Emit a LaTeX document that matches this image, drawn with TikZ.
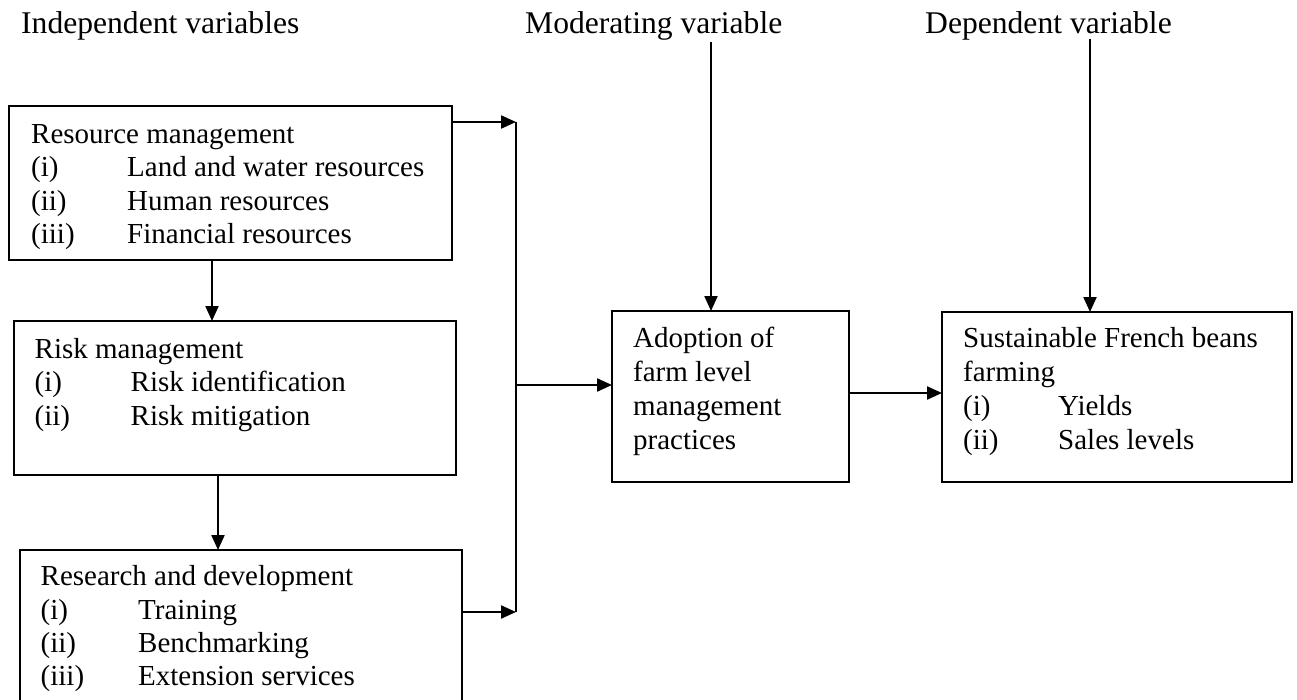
\documentclass[tikz,border=0pt]{standalone}
\usepackage{fontspec}
\setmainfont{Liberation Serif}
\usetikzlibrary{arrows.meta}
\begin{document}
\begin{tikzpicture}[x=1pt,y=-1pt,
  box/.style={draw,line width=2.2pt,anchor=north west,inner sep=0pt,outer sep=0pt},
  txt/.style={anchor=base west,inner sep=0pt,font=\fontsize{29}{33.5}\selectfont},
  hdr/.style={anchor=base west,inner sep=0pt,font=\fontsize{31.6}{36}\selectfont},
  arr/.style={line width=2.2pt,-{Triangle[length=15pt,width=13pt]}},
  ln/.style={line width=2.2pt}]
\useasboundingbox (0,0) rectangle (1297,699);

% headers
\node[hdr] (hind) at (21,33) {Independent variables};
\node[hdr] (hmod) at (525,33) {Moderating variable};
\node[hdr] (hdep) at (925,33) {Dependent variable};

% boxes
\node[box,minimum width=443pt,minimum height=154pt] (rm) at (9,106) {};
\node[box,minimum width=442pt,minimum height=154pt] (risk) at (14,321) {};
\node[box,minimum width=442pt,minimum height=151pt] (rd) at (20,550) {};
\node[box,minimum width=237pt,minimum height=171pt] (ad) at (612,311) {};
\node[box,minimum width=350pt,minimum height=170pt] (sf) at (942,312) {};

% box 1 text
\node[txt] (rm0) at (31,143.3) {Resource management};
\node[txt] (rm1a) at (31,176.7) {(i)};
\node[txt] (rm1b) at (127,176.7) {Land and water resources};
\node[txt] (rm2a) at (31,210) {(ii)};
\node[txt] (rm2b) at (127,210) {Human resources};
\node[txt] (rm3a) at (31,243.3) {(iii)};
\node[txt] (rm3b) at (127,243.3) {Financial resources};

% box 2 text
\node[txt] (rk0) at (34.5,358.3) {Risk management};
\node[txt] (rk1a) at (34.5,391.7) {(i)};
\node[txt] (rk1b) at (130.5,391.7) {Risk identification};
\node[txt] (rk2a) at (34.5,425) {(ii)};
\node[txt] (rk2b) at (130.5,425) {Risk mitigation};

% box 3 text
\node[txt] (rd0) at (40.5,585) {Research and development};
\node[txt] (rd1a) at (40.5,619) {(i)};
\node[txt] (rd1b) at (138,619) {Training};
\node[txt] (rd2a) at (40.5,652) {(ii)};
\node[txt] (rd2b) at (138,652) {Benchmarking};
\node[txt] (rd3a) at (40.5,685) {(iii)};
\node[txt] (rd3b) at (138,685) {Extension services};

% adoption text
\node[txt] (ad1) at (633,347) {Adoption of};
\node[txt] (ad2) at (633,381) {farm level};
\node[txt] (ad3) at (633,415) {management};
\node[txt] (ad4) at (633,449) {practices};

% sustainable text
\node[txt] (sf1) at (963,347) {Sustainable French beans};
\node[txt] (sf2) at (963,381) {farming};
\node[txt] (sf3a) at (963,415) {(i)};
\node[txt] (sf3b) at (1058,415) {Yields};
\node[txt] (sf4a) at (963,449) {(ii)};
\node[txt] (sf4b) at (1058,449) {Sales levels};

% connector coordinates
\coordinate (v1) at (516,122);
\coordinate (v2) at (516,612);
\coordinate (v3) at (516,385);
\coordinate (d1) at (212,0);
\coordinate (d2) at (218,0);
\coordinate (m0) at (711,42);
\coordinate (p0) at (1090,39);
\coordinate (h) at (0,393);

% connectors
\draw[arr] (v1 -| rm.east) -- (v1);
\draw[arr] (v2 -| rd.east) -- (v2);
\draw[ln] (v1) -- (v2);
\draw[arr] (v3) -- (v3 -| ad.west);
\draw[arr] (d1 |- rm.south) -- (d1 |- risk.north);
\draw[arr] (d2 |- risk.south) -- (d2 |- rd.north);
\draw[arr] (m0) -- (m0 |- ad.north);
\draw[arr] (p0) -- (p0 |- sf.north);
\draw[arr] (h -| ad.east) -- (h -| sf.west);
\end{tikzpicture}
\end{document}
